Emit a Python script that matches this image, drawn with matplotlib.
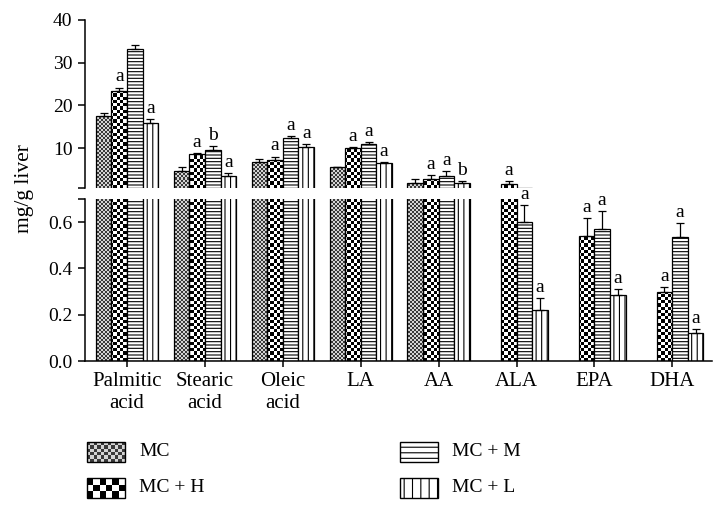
import numpy as np
import matplotlib
matplotlib.use('Agg')
import matplotlib.pyplot as plt
from matplotlib.colors import ListedColormap
from matplotlib.patches import Rectangle

plt.rcParams['font.family'] = 'Liberation Serif'
plt.rcParams['hatch.linewidth'] = 0.8

W, H = 727, 512

# ---- data ----
groups = ['Palmitic\nacid', 'Stearic\nacid', 'Oleic\nacid', 'LA', 'AA', 'ALA', 'EPA', 'DHA']
series = ['MC', 'MC + H', 'MC + M', 'MC + L']

mc = [17.6, 4.7, 6.7, 5.5, 1.9, np.nan, np.nan, np.nan]
mc_err = [0.7, 0.9, 0.8, 0.2, 0.8, np.nan, np.nan, np.nan]
mc_h = [23.4, 8.6, 7.35, 10.1, 2.7, 1.7, 0.54, 0.30]
mc_h_err = [0.8, 0.2, 0.7, 0.1, 1.05, 0.6, 0.078, 0.02]
mc_m = [33.2, 9.7, 12.35, 11.1, 3.5, 0.60, 0.57, 0.535]
mc_m_err = [0.9, 0.8, 0.55, 0.3, 1.1, 0.074, 0.079, 0.061]
mc_l = [15.8, 3.4, 10.3, 6.6, 1.8, 0.22, 0.286, 0.12]
mc_l_err = [1.1, 0.8, 0.7, 0.1, 0.5, 0.051, 0.023, 0.02]

mc_letters = ['', '', '', '', '', '', '', '']
mc_h_letters = ['a', 'a', 'a', 'a', 'a', 'a', 'a', 'a']
mc_m_letters = ['', 'b', 'a', 'a', 'a', 'a', 'a', 'a']
mc_l_letters = ['a', 'a', 'a', 'a', 'b', 'a', 'a', 'a']

values = [mc, mc_h, mc_m, mc_l]
errors = [mc_err, mc_h_err, mc_m_err, mc_l_err]
letters = [mc_letters, mc_h_letters, mc_m_letters, mc_l_letters]

# fill style per series: ('checker', cell px, dark, light) or ('hatch', pattern)
fills = [('checker', 2.0, '#3a3a3a', '#d4d4d4'),
         ('checker', 3.2, 'black', 'white'),
         ('hatch', '-----'),
         ('hatch', '|||')]
legend_fills = [('checker', 3.5, '#3a3a3a', '#d4d4d4'),
                ('checker', 6.5, 'black', 'white'),
                ('hatch', '---'),
                ('hatch', '||')]

BREAK = 0.7
FS = 14


def checker_fill(ax, patch, cell, dark, light, extent=None):
    """Fill a patch with a checkerboard image clipped to it."""
    if extent is None:
        bb = ax.get_position()
        nx = max(1, int(round(bb.width * W / cell)))
        ny = max(1, int(round(bb.height * H / cell)))
        extent = (0, 1, 0, 1)
        transform = ax.transAxes
    else:
        nx = max(1, int(round(abs(extent[1] - extent[0]) / cell)))
        ny = max(1, int(round(abs(extent[2] - extent[3]) / cell)))
        transform = ax.transData
    arr = np.indices((ny, nx)).sum(axis=0) % 2
    im = ax.imshow(arr, cmap=ListedColormap([dark, light]), extent=extent,
                   transform=transform, interpolation='nearest', aspect='auto',
                   zorder=1.5)
    im.set_clip_path(patch)


fig = plt.figure(figsize=(W / 100, H / 100), dpi=100)
left, right = 85, 712
ax_top = fig.add_axes([left / W, 1 - 188 / H, (right - left) / W, (188 - 20) / H])
ax_bot = fig.add_axes([left / W, 1 - 361 / H, (right - left) / W, (361 - 199) / H])

x = np.arange(len(groups))
width = 0.2
offsets = [-0.3, -0.1, 0.1, 0.3]

for ax in (ax_top, ax_bot):
    for vals, errs, style, off in zip(values, errors, fills, offsets):
        vals = np.array(vals, dtype=float)
        errs = np.array(errs, dtype=float)
        ok = ~np.isnan(vals)
        xpos = x[ok] + off
        if style[0] == 'hatch':
            bars = ax.bar(xpos, vals[ok], width, facecolor='white', edgecolor='black',
                          linewidth=0.9, hatch=style[1], zorder=2)
        else:
            bars = ax.bar(xpos, vals[ok], width, facecolor='none', edgecolor='black',
                          linewidth=0.9, zorder=2)
            for b in bars:
                checker_fill(ax, b, style[1], style[2], style[3])
        # error bars only in the panel that holds the bar top
        if ax is ax_top:
            sel = ok & (np.nan_to_num(vals) > BREAK)
        else:
            sel = ok & (np.nan_to_num(vals) <= BREAK)
        if sel.any():
            ax.errorbar(x[sel] + off, vals[sel], yerr=[np.zeros(sel.sum()), errs[sel]],
                        fmt='none', ecolor='black', elinewidth=0.9, capsize=3,
                        capthick=0.9, zorder=3)

# significance letters
for vals, errs, labs, off in zip(values, errors, letters, offsets):
    for i, lab in enumerate(labs):
        if not lab or np.isnan(vals[i]):
            continue
        top = vals[i] + errs[i]
        ax = ax_top if top > BREAK else ax_bot
        ax.annotate(lab, (x[i] + off, top), xytext=(0, 1.5), textcoords='offset points',
                    ha='center', va='bottom', fontsize=FS)

xlim = (-0.54, 7.51)
ax_top.set_xlim(*xlim)
ax_bot.set_xlim(*xlim)
ax_top.set_ylim(BREAK, 40)
ax_bot.set_ylim(0, BREAK)

for ax in (ax_top, ax_bot):
    ax.spines['top'].set_visible(False)
    ax.spines['right'].set_visible(False)
    ax.spines['left'].set_linewidth(1.1)
    ax.spines['bottom'].set_linewidth(1.1)
    ax.tick_params(axis='y', which='both', direction='out', length=5, width=1.1,
                   labelsize=FS, pad=4)

ax_top.spines['bottom'].set_visible(False)
ax_top.set_xticks([])
ax_top.set_yticks([10, 20, 30, 40])
ax_top.set_yticks([BREAK], minor=True)

ax_bot.set_yticks([0, 0.2, 0.4, 0.6])
ax_bot.set_yticklabels(['0.0', '0.2', '0.4', '0.6'])
ax_bot.set_yticks([BREAK], minor=True)
ax_bot.set_xticks(x)
ax_bot.set_xticklabels(groups, fontsize=15, linespacing=1.2)
ax_bot.tick_params(axis='x', direction='out', length=4, width=1.1, pad=4)

fig.text(25 / W, 1 - 189 / H, 'mg/g liver', rotation=90, ha='center', va='center',
         fontsize=15.5)

# ---- legend drawn by hand (checker fills are images) ----
ov = fig.add_axes([0, 0, 1, 1])
ov.set_xlim(0, W)
ov.set_ylim(H, 0)
ov.axis('off')
slots = [(87, 442), (87, 478), (400, 442), (400, 478)]
pw, ph = 38, 20
for name, style, (px, py) in zip(series, legend_fills, slots):
    if style[0] == 'hatch':
        r = Rectangle((px, py), pw, ph, facecolor='white', edgecolor='black',
                      linewidth=1.0, hatch=style[1], zorder=2)
        ov.add_patch(r)
    else:
        r = Rectangle((px, py), pw, ph, facecolor='none', edgecolor='black',
                      linewidth=1.0, zorder=2)
        ov.add_patch(r)
        checker_fill(ov, r, style[1], style[2], style[3],
                     extent=(px, px + pw, py + ph, py))
    ov.text(px + 52, py + ph / 2, name, ha='left', va='center', fontsize=FS)
ov.set_xlim(0, W)
ov.set_ylim(H, 0)

fig.savefig('out.png', dpi=100)
